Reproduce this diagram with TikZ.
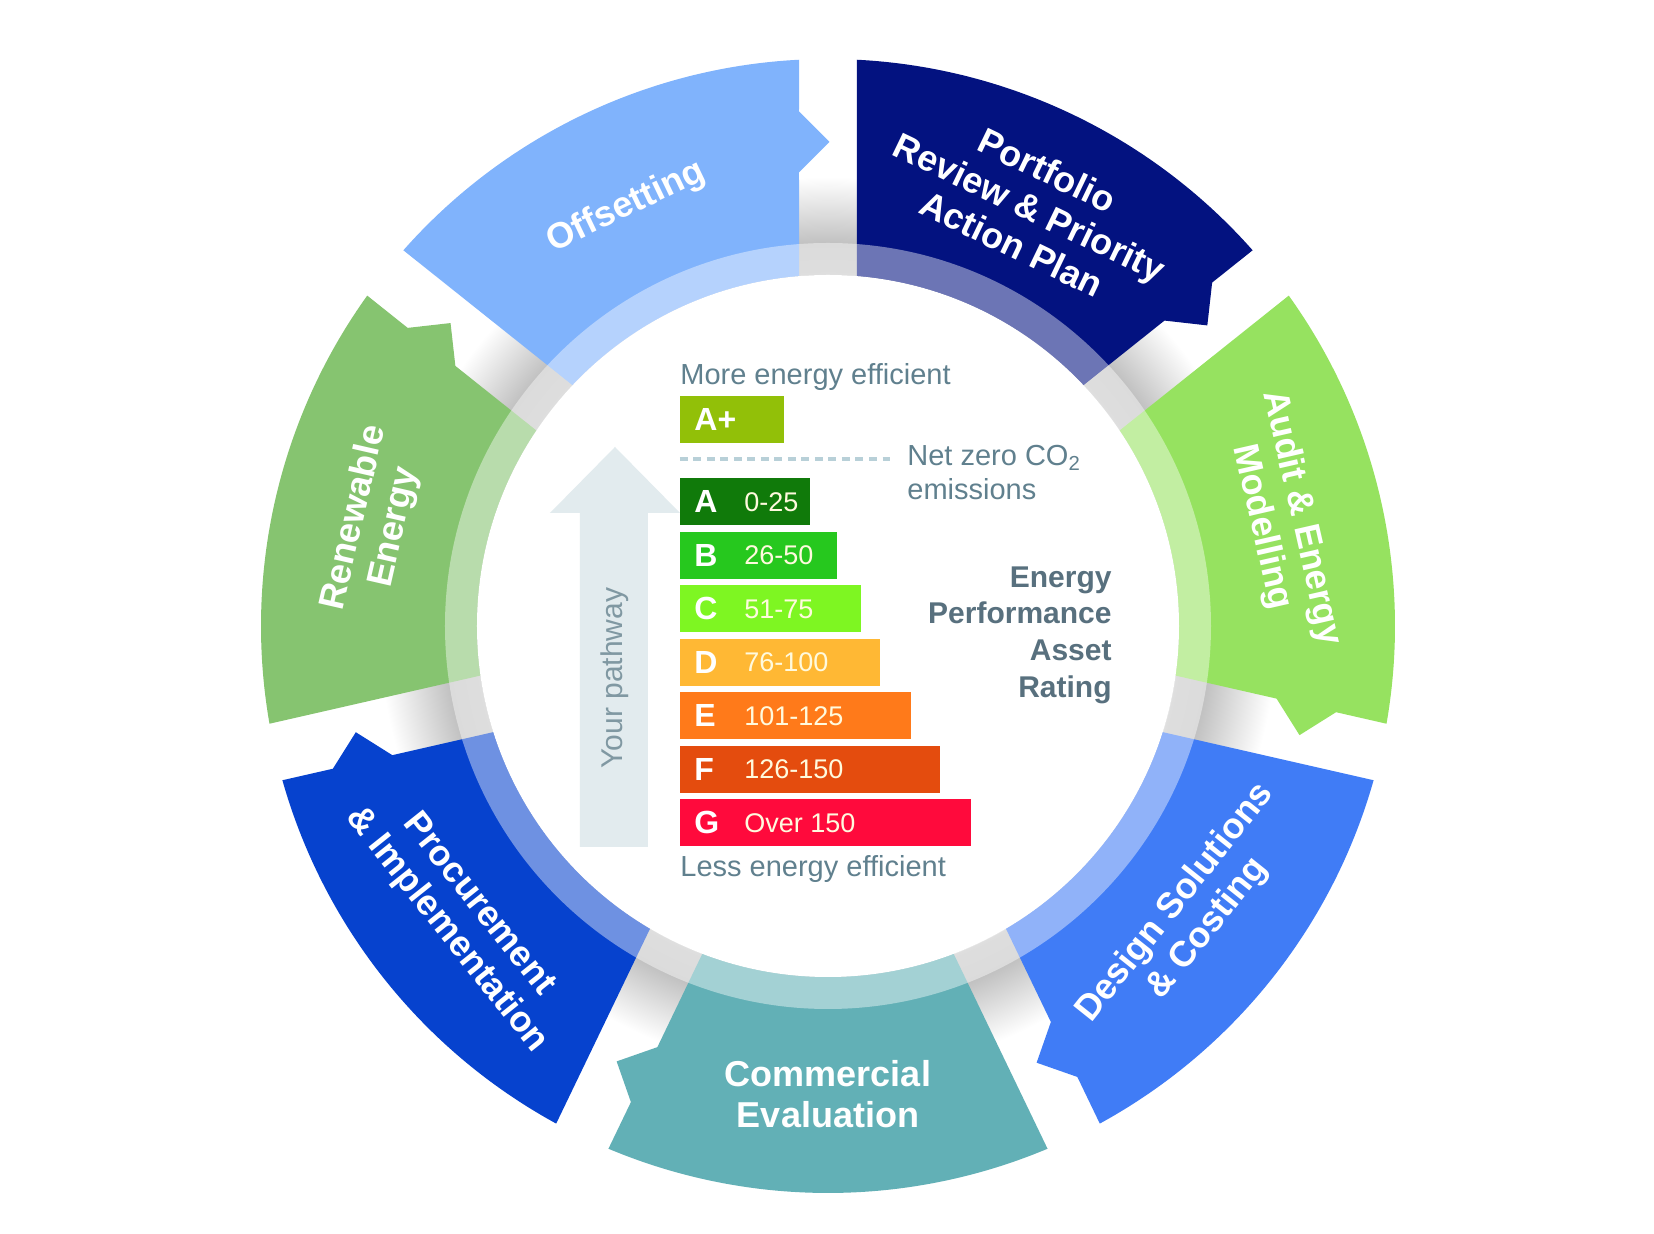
\documentclass[tikz,border=0pt]{standalone}
\usepackage{fontspec}
\setmainfont{Liberation Sans}
\usepackage{xcolor}
\usepackage{tikz}
\usetikzlibrary{positioning,calc}

\definecolor{offsetblue}{RGB}{128,179,252}
\definecolor{portnavy}{RGB}{3,18,128}
\definecolor{auditgreen}{RGB}{150,226,96}
\definecolor{designblue}{RGB}{64,124,246}
\definecolor{commteal}{RGB}{98,176,182}
\definecolor{procblue}{RGB}{6,66,206}
\definecolor{renewgreen}{RGB}{134,196,112}
\definecolor{gAp}{RGB}{146,192,8}
\definecolor{gA}{RGB}{16,122,10}
\definecolor{gB}{RGB}{38,200,30}
\definecolor{gC}{RGB}{126,246,34}
\definecolor{gD}{RGB}{255,184,52}
\definecolor{gE}{RGB}{255,122,26}
\definecolor{gF}{RGB}{228,76,14}
\definecolor{gG}{RGB}{255,10,60}
\definecolor{notegrey}{RGB}{96,128,142}
\definecolor{rategrey}{RGB}{88,112,126}
\definecolor{pathfill}{RGB}{226,235,238}
\definecolor{pathgrey}{RGB}{128,152,162}
\definecolor{dashblue}{RGB}{184,208,216}
\definecolor{rangecream}{RGB}{255,250,222}

\pgfdeclareradialshading{gapshade}{\pgfpoint{0bp}{0bp}}{%
color(0bp)=(white); color(15.3bp)=(white); color(15.5bp)=(black!22);
color(16.9bp)=(black!24); color(19.8bp)=(white); color(50bp)=(white)}

\tikzset{
seglabel/.style={text=white, font=\bfseries\fontsize{18}{20.5}\selectfont, align=center, inner sep=0pt},
ratebar/.style={anchor=north west, minimum height=23.5pt, inner sep=0pt},
grade/.style={text=white, font=\bfseries\fontsize{16}{18}\selectfont, anchor=west, inner sep=0pt},
rangetxt/.style={text=rangecream, font=\fontsize{13.5}{16}\selectfont, anchor=west, inner sep=0pt},
notetxt/.style={text=notegrey, font=\fontsize{14.5}{17}\selectfont, inner sep=0pt},
netzero/.style={dashblue, line width=2pt, dash pattern=on 4pt off 2.75pt}
}

\newcommand{\ringout}{567}
\newcommand{\ringin}{351}
\newcommand{\ringband}{383}
\newcommand{\gapw}{29}
\newcommand{\tabr}{484}
\newcommand{\tabo}{514.5}
\newcommand{\tabi}{453.5}
\newcommand{\tipoff}{-1.5}
% one arrow piece of the ring: #1 = angle of its leading gap, #2 = colour
\newcommand{\ringseg}[2]{%
\pgfmathsetmacro{\ga}{#1}%
\pgfmathsetmacro{\gb}{#1-360/7}%
\pgfmathsetmacro{\dout}{asin(\gapw/\ringout)}%
\pgfmathsetmacro{\din}{asin(\gapw/\ringin)}%
\fill[#2] (\ga-\dout:\ringout)
  arc[start angle=\ga-\dout, end angle=\gb+\dout, radius=\ringout]
  -- ([shift={(\gb+90:\gapw)}]\gb:\tabo)
  -- ([shift={(\gb+90:\tipoff)}]\gb:\tabr)
  -- ([shift={(\gb+90:\gapw)}]\gb:\tabi)
  -- (\gb+\din:\ringin)
  arc[start angle=\gb+\din, end angle=\ga-\din, radius=\ringin]
  -- cycle;}

\begin{document}
\begin{tikzpicture}[x=0.5pt,y=0.5pt]
\useasboundingbox (-828,-608) rectangle (826,626);

% ring
\shade[shading=gapshade] (0,0) circle (\ringout);
\foreach \c [count=\k from 0] in {offsetblue,portnavy,auditgreen,designblue,commteal,procblue,renewgreen}
  \ringseg{90+360/7-\k*360/7}{\c};
\fill[white, opacity=0.42, even odd rule] (0,0) circle (\ringband) (0,0) circle (\ringin);
\fill[white] (0,0) circle (\ringin);

\node[seglabel, rotate=25.71] (offs) at (115.71:465) {Offsetting};
\node[seglabel, rotate=-25.71] (port) at (64.29:465) {Portfolio\\Review \& Priority\\Action Plan};
\node[seglabel, rotate=-77.14] (audit) at (12.86:465) {Audit \& Energy\\Modelling};
\node[seglabel, rotate=51.43] (design) at (-38.57:465) {Design Solutions\\\& Costing};
\node[seglabel] (comm) at (-90:468) {Commercial\\Evaluation};
\node[seglabel, rotate=-51.43] (proc) at (-141.43:468) {Procurement\\\& Implementation};
\node[seglabel, rotate=77.14] (renew) at (167.14:465) {Renewable\\Energy};

% pathway arrow
\fill[pathfill] (-248,-221) -- (-248,113) -- (-278,113) -- (-213,179) -- (-148,113) -- (-180,113) -- (-180,-221) -- cycle;
\node[rotate=90, text=pathgrey, font=\fontsize{15}{18}\selectfont, inner sep=0pt] (path) at (-213,-52) {Your pathway};

% rating scale
\node[notetxt, anchor=base west] (more) at (-148,241) {More energy efficient};
\node[ratebar, fill=gAp, minimum width=52pt] (barAp) at (-148,230) {};
\node[grade, right=7pt of barAp.west] (lAp) {A+};
\coordinate (dashL) at (-148,167);
\coordinate (dashR) at (62,167);
\draw[netzero] (dashL) -- (dashR);
\node[notetxt, anchor=west, align=left] (netz) at (79,153) {Net zero CO\textsubscript{2}\\emissions};

\foreach \g/\r/\w/\c [count=\i from 0] in {A/0-25/65/gA, B/26-50/78.5/gB, C/51-75/90.5/gC, D/76-100/100/gD, E/101-125/115.5/gE, F/126-150/130/gF, G/Over 150/145.5/gG}{
  \node[ratebar, fill=\c, minimum width=\w pt] (bar\g) at (-148,148-53.5*\i) {};
  \node[grade, right=7pt of bar\g.west] (l\g) {\g};
  \node[rangetxt, right=32pt of bar\g.west] (r\g) {\r};
}
\node[notetxt, anchor=base west] (less) at (-148,-251) {Less energy efficient};

\node[anchor=east, align=right, text=rategrey, font=\bfseries\fontsize{15}{18.3}\selectfont, inner sep=0pt] (epar) at (284,-9) {Energy\\Performance\\Asset\\Rating};
\end{tikzpicture}
\end{document}
